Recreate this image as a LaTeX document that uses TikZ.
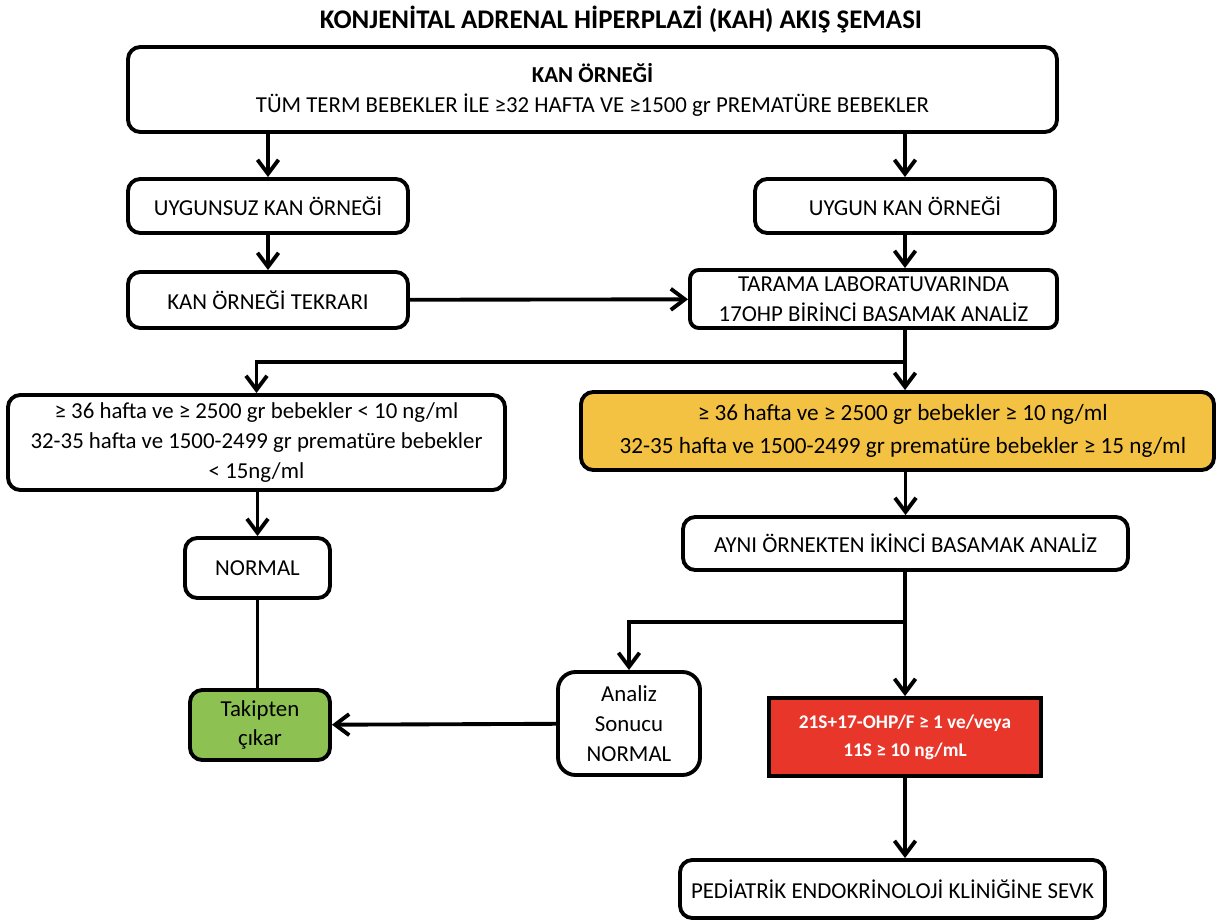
\documentclass[tikz,border=0pt]{standalone}
\usepackage{fontspec}
\setmainfont{Carlito}
\usepackage{tikz}
\usetikzlibrary{arrows.meta}
\usetikzlibrary{positioning}

\begin{document}
\begin{tikzpicture}[x=0.02cm, y=-0.02cm,
    box/.style={draw, line width=2.2pt, rounded corners=7pt, fill=white, align=center,
                inner sep=0pt, font=\fontsize{13}{17}\selectfont},
    arr/.style={line width=2.2pt, -{Straight Barb[length=8pt, width=12pt, line width=2.2pt]}},
    link/.style={line width=2.2pt}]
    \definecolor{orangebox}{RGB}{244,194,66}
    \definecolor{greenbox}{RGB}{141,193,82}
    \definecolor{redbox}{RGB}{232,54,42}

    \useasboundingbox (0,0) rectangle (1217,922);

    \node (title) at (621,20) {\fontsize{15.3}{18}\selectfont\bfseries KONJENİTAL ADRENAL HİPERPLAZİ (KAH) AKIŞ ŞEMASI};

    \node[box, minimum width=929*0.02cm, minimum height=85*0.02cm] (kan) at (592.5,89.5)
        {\textbf{KAN ÖRNEĞİ}\\TÜM TERM BEBEKLER İLE ≥32 HAFTA VE ≥1500 gr PREMATÜRE BEBEKLER};
    \node[box, minimum width=280*0.02cm, minimum height=54*0.02cm] (uygunsuz) at (268,206) {UYGUNSUZ KAN ÖRNEĞİ};
    \node[box, minimum width=300*0.02cm, minimum height=54*0.02cm] (uygun) at (905,206) {UYGUN KAN ÖRNEĞİ};
    \node[box, minimum width=280*0.02cm, minimum height=56*0.02cm] (tekrar) at (268,300) {KAN ÖRNEĞİ TEKRARI};
    \node[box, rounded corners=5pt, minimum width=367*0.02cm, minimum height=58*0.02cm] (tarama) at (873.5,299)
        {TARAMA LABORATUVARINDA\\17OHP BİRİNCİ BASAMAK ANALİZ};

    \node[box, minimum width=497*0.02cm, minimum height=95*0.02cm] (dusuk) at (256.5,442.5)
        {≥ 36 hafta ve ≥ 2500 gr bebekler < 10 ng/ml\\32-35 hafta ve 1500-2499 gr prematüre bebekler\\< 15ng/ml};
    \node[box, fill=orangebox, font=\fontsize{13.2}{19}\selectfont, minimum width=633*0.02cm, minimum height=78*0.02cm] (yuksek) at (897.5,431)
        {\hspace*{6pt}≥ 36 hafta ve ≥ 2500 gr bebekler ≥ 10 ng/ml\\\hspace*{6pt}32-35 hafta ve 1500-2499 gr prematüre bebekler ≥ 15 ng/ml};

    \node[box, minimum width=445*0.02cm, minimum height=53*0.02cm] (ikinci) at (905.5,543.5) {AYNI ÖRNEKTEN İKİNCİ BASAMAK ANALİZ};
    \node[box, minimum width=145*0.02cm, minimum height=60*0.02cm] (normal) at (257.5,568) {NORMAL};

    \node[box, fill=greenbox, minimum width=140*0.02cm, minimum height=70*0.02cm] (takip) at (260,725) {Takipten\\çıkar};
    \node[box, rounded corners=10pt, minimum width=142*0.02cm, minimum height=103*0.02cm] (analiz) at (629,723.5)
        {Analiz\\Sonucu\\NORMAL};
    \node[box, rounded corners=0pt, fill=redbox, text=white, font=\fontsize{11}{16}\selectfont\bfseries,
        minimum width=272*0.02cm, minimum height=78*0.02cm] (kirmizi) at (905,737)
        {21S+17-OHP/F ≥ 1 ve/veya\\11S ≥ 10 ng/mL};
    \node[box, minimum width=425*0.02cm, minimum height=58*0.02cm] (sevk) at (892.5,889) {PEDİATRİK ENDOKRİNOLOJİ KLİNİĞİNE SEVK};

    \coordinate (j1) at (905,362);
    \coordinate (j2) at (905,622);

    \draw[arr] (kan.south -| uygunsuz.north) -- (uygunsuz.north);
    \draw[arr] (kan.south -| uygun.north) -- (uygun.north);
    \draw[arr] (uygunsuz) -- (tekrar);
    \draw[arr] (uygun.south) -- (uygun.south |- tarama.north);
    \draw[arr] (tekrar) -- (tarama);
    \draw[link] (tarama.south -| j1) -- (j1);
    \draw[arr] (j1) -| (dusuk.north);
    \draw[arr] (j1) -- (j1 |- yuksek.north);
    \draw[arr] (dusuk.south -| normal.north) -- (normal.north);
    \draw[link] (normal.south) -- (normal.south |- takip.north);
    \draw[arr] (yuksek.south -| ikinci.north) -- (ikinci.north);
    \draw[link] (ikinci.south -| j2) -- (j2);
    \draw[arr] (j2) -| (analiz.north);
    \draw[arr] (j2) -- (kirmizi.north);
    \draw[arr] (analiz) -- (takip);
    \draw[arr] (kirmizi.south) -- (kirmizi.south |- sevk.north);
\end{tikzpicture}
\end{document}
